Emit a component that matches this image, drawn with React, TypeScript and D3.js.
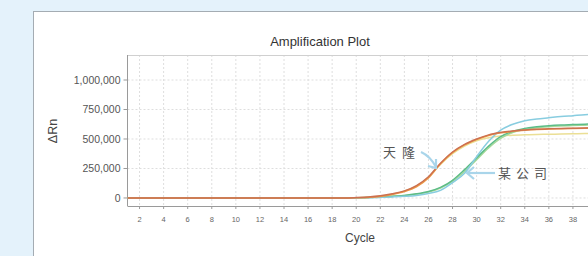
import React from 'react';
import * as d3 from 'd3';

// cycles 1..40
const cycles = d3.range(1, 41);

// ΔRn values (cycles 1..19 are flat at zero)
const flat = new Array(19).fill(0);
const orange = [...flat, 2000, 5000, 12000, 30000, 55000, 95000, 170000, 290000, 385000, 450000, 495000, 530000, 552000, 565000, 574000, 580000, 584000, 587000, 590000, 592000, 593000];
const red = [...flat, 3000, 8000, 18000, 35000, 60000, 105000, 180000, 295000, 390000, 455000, 500000, 535000, 555000, 568000, 576000, 582000, 586000, 589000, 591000, 593000, 594000];
const yellow = [...flat, 2000, 6000, 14000, 32000, 58000, 100000, 175000, 285000, 375000, 440000, 485000, 510000, 525000, 532000, 535000, 538000, 540000, 542000, 544000, 546000, 547000];
const cyan = [...flat, 0, 2000, 5000, 9000, 14000, 22000, 38000, 65000, 130000, 210000, 350000, 480000, 575000, 625000, 655000, 670000, 680000, 690000, 698000, 706000, 710000];
const green = [...flat, 2000, 5000, 9000, 14000, 22000, 35000, 55000, 90000, 150000, 240000, 340000, 440000, 520000, 565000, 590000, 603000, 612000, 618000, 622000, 626000, 628000];
const lightGreen = [...flat, 1000, 4000, 8000, 13000, 20000, 32000, 50000, 85000, 140000, 225000, 325000, 425000, 505000, 555000, 580000, 595000, 604000, 610000, 614000, 617000, 620000];

const series = [
  { name: 'yellow', color: '#ebdf95', values: yellow },
  { name: 'lightGreen', color: '#a8dA9a', values: lightGreen },
  { name: 'green', color: '#5cbc88', values: green },
  { name: 'cyan', color: '#88cde0', values: cyan },
  { name: 'orange', color: '#ee9a45', values: orange },
  { name: 'red', color: '#cc7050', values: red },
];

const yTicks = [0, 250000, 500000, 750000, 1000000];
const xTicks = d3.range(2, 39, 2);

const W = 588;
const H = 256;

export default function App() {
  const x = d3.scaleLinear().domain([1, 40]).range([127.5, 597]);
  const y = d3.scaleLinear().domain([-68000, 1212000]).range([206, 55]);
  const fmt = d3.format(',');

  const line = d3.line<number>()
    .x((d, i) => x(cycles[i]))
    .y(d => y(d))
    .curve(d3.curveMonotoneX);

  const left = x.range()[0];
  const top = y.range()[1];
  const bottom = y.range()[0];

  return (
    <svg width={W} height={H} style={{ position: 'absolute', left: 0, top: 0, display: 'block' }}
      fontFamily="Arial, 'Liberation Sans', sans-serif">
      <rect x={0} y={0} width={W} height={H} fill="#e4f2fb" />
      <rect x={33.5} y={11.5} width={W} height={H} fill="#ffffff" stroke="#a4acb3" />

      <text x={320} y={46} textAnchor="middle" fontSize={13} fill="#333">Amplification Plot</text>

      <defs>
        <clipPath id="plot">
          <rect x={left} y={top} width={W - left} height={bottom - top} />
        </clipPath>
      </defs>

      {/* grid */}
      {yTicks.map(t => (
        <line key={'gy' + t} x1={left} x2={W} y1={y(t)} y2={y(t)} stroke="#dedede" strokeDasharray="2,2" />
      ))}
      {xTicks.map(t => (
        <line key={'gx' + t} x1={x(t)} x2={x(t)} y1={top} y2={bottom} stroke="#dedede" strokeDasharray="2,2" />
      ))}

      {/* frame */}
      <line x1={left} x2={W} y1={top + 0.5} y2={top + 0.5} stroke="#d0d0d0" />
      <line x1={left} x2={left} y1={top} y2={bottom} stroke="#9a9a9a" />
      <line x1={left} x2={W} y1={bottom + 0.5} y2={bottom + 0.5} stroke="#9a9a9a" />

      {/* y axis */}
      {yTicks.map(t => (
        <g key={'ty' + t}>
          <line x1={left - 4} x2={left} y1={y(t)} y2={y(t)} stroke="#9a9a9a" />
          <text x={left - 7} y={y(t)} dy="0.35em" textAnchor="end" fontSize={10.5} fill="#555">{fmt(t)}</text>
        </g>
      ))}
      {/* x axis */}
      {xTicks.map(t => (
        <g key={'tx' + t}>
          <line x1={x(t)} x2={x(t)} y1={bottom} y2={bottom + 3} stroke="#9a9a9a" />
          <text x={x(t)} y={222} textAnchor="middle" fontSize={7.5} fill="#666">{t}</text>
        </g>
      ))}

      <text transform="translate(57,131) rotate(-90)" textAnchor="middle" fontSize={12.5} fill="#444">ΔRn</text>
      <text x={360} y={242} textAnchor="middle" fontSize={12} fill="#444">Cycle</text>

      {/* curves */}
      <g clipPath="url(#plot)">
        {series.map(s => (
          <path key={s.name} d={line(s.values) || ''} fill="none" stroke={s.color} strokeWidth={1.5} />
        ))}
      </g>

      {/* annotations */}
      <text x={383} y={157} fontSize={13} fill="#555" letterSpacing={6}
        fontFamily="'Noto Sans CJK SC', sans-serif">天隆</text>
      <path d="M421,152 Q430,156 436,167" fill="none" stroke="#a9d5ea" strokeWidth={2.2} />
      <path d="M428,166 L436,168 L436,159" fill="none" stroke="#a9d5ea" strokeWidth={2.2} />

      <text x={498} y={178} fontSize={13} fill="#555" letterSpacing={5}
        fontFamily="'Noto Sans CJK SC', sans-serif">某公司</text>
      <line x1={495} x2={467} y1={173} y2={173} stroke="#a9d5ea" strokeWidth={2.2} />
      <path d="M474,167 L467,173 L474,179" fill="none" stroke="#a9d5ea" strokeWidth={2.2} />
    </svg>
  );
}
